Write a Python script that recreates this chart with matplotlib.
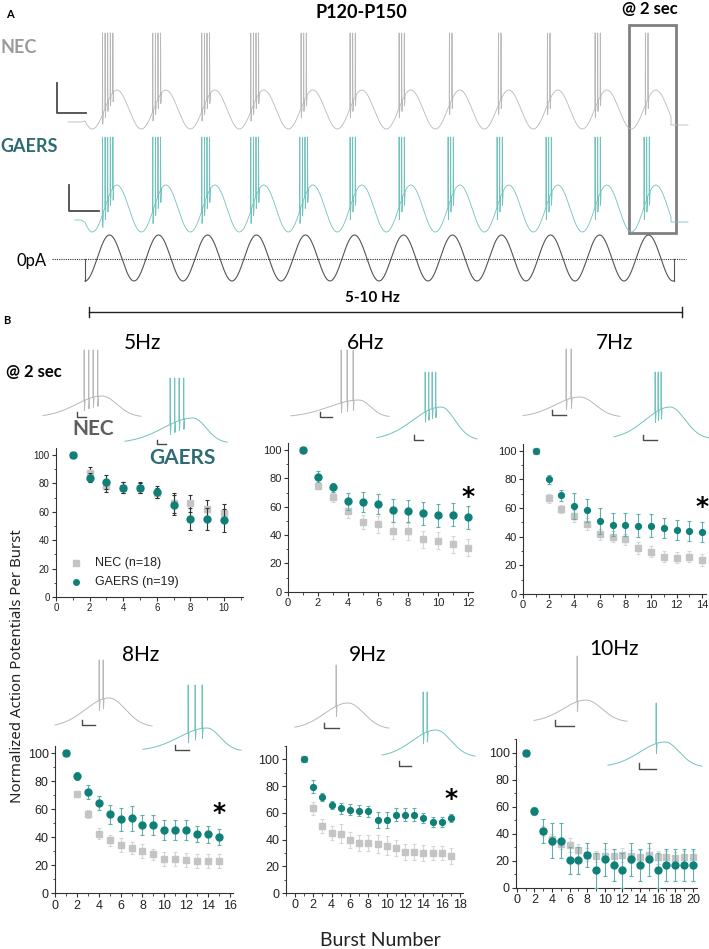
import numpy as np
import matplotlib
matplotlib.use("Agg")
import matplotlib.pyplot as plt
from matplotlib.ticker import MultipleLocator

# ---------------- data ----------------
burst_5 = list(range(1, 11))
nec_5 = [100, 87.3, 78, 77, 77, 73, 66, 66, 62, 59.3]
nec_5_err = [0, 4, 4, 4, 3.5, 3.5, 7, 6, 6, 6]
gaers_5 = [100, 84, 81, 77, 77, 74, 65, 55, 55, 54]
gaers_5_err = [0, 3, 5, 4, 4, 4, 7, 8, 8, 8]

burst_6 = list(range(1, 13))
nec_6 = [100, 74.6, 66.6, 57.2, 49, 47.5, 43, 42.6, 37, 36, 33.6, 31]
nec_6_err = [0, 2, 3, 5, 5, 6, 6, 6, 6, 6, 6, 6]
gaers_6 = [100, 81.2, 73.7, 64, 63.5, 62, 57.4, 57, 55.3, 54, 54.3, 52.5]
gaers_6_err = [0, 4, 3, 6, 7, 7, 8, 8, 8, 8, 8, 8]

burst_7 = list(range(1, 15))
nec_7 = [100, 66.8, 59.3, 54.4, 48.8, 41.6, 40, 38.2, 32, 29.5, 26, 25.3, 26, 23.7]
nec_7_err = [0, 3, 3, 4, 4, 4, 4, 4, 4, 4, 4, 4, 4, 4]
gaers_7 = [100, 80, 68.9, 61.2, 58.4, 51, 48.2, 48.2, 47.5, 47.5, 45.8, 44.7, 43.7, 43]
gaers_7_err = [0, 3, 4, 9, 8, 9, 8, 8, 8, 8, 7, 7, 7, 7]

burst_8 = list(range(1, 16))
nec_8 = [100, 70.9, 56.6, 42.6, 37.9, 34.3, 32.4, 30, 27.8, 24.8, 24.3, 23.6, 23.3, 22.9, 22.9]
nec_8_err = [0, 2, 3, 4, 4, 5, 4, 5, 4, 5, 5, 5, 5, 5, 5]
gaers_8 = [100, 83.8, 72.1, 64.7, 56.4, 52.8, 53.6, 48.6, 48.6, 45.2, 45.2, 45.2, 42.4, 42.1, 40.2]
gaers_8_err = [0, 3, 5, 5, 7, 8, 9, 7, 7, 7, 7, 7, 6, 6, 6]

burst_9 = list(range(1, 18))
nec_9 = [100, 63.4, 50.2, 45, 44.5, 39.7, 37.5, 37.5, 36.7, 35.5, 34, 31, 31, 30, 30, 30, 27.5]
nec_9_err = [0, 5, 5, 5, 7, 6, 6, 6, 7, 7, 6, 6, 6, 6, 5, 5, 6]
gaers_9 = [100, 79.5, 72, 65.7, 63.4, 62.4, 61.7, 61, 54.7, 54.7, 58.7, 58.7, 58.7, 56, 53, 53, 56]
gaers_9_err = [0, 5, 3, 3, 4, 4, 4, 4, 6, 6, 5, 5, 5, 4, 4, 4, 3]

burst_10 = list(range(1, 21))
nec_10 = [100, 57, 42, 36, 32.6, 31.6, 27.7, 24.5, 23.2, 23.7, 23.7, 24.2, 23.2, 23, 24.5, 22.5, 22.5, 21.7, 22.5, 22.5]
nec_10_err = [0, 3, 4, 4, 4, 5, 5, 5, 4, 5, 5, 5, 5, 5, 5, 5, 5, 5, 5, 5]
gaers_10 = [100, 57, 42, 34.8, 34.8, 20.5, 20.5, 24.2, 13, 21, 16.8, 13, 21, 16.8, 21, 13, 16.8, 16.8, 16.8, 16.8]
gaers_10_err = [0, 3, 9, 13, 13, 10, 10, 9, 13, 12, 12, 13, 12, 12, 12, 13, 12, 12, 12, 12]

freq_titles = ["5Hz", "6Hz", "7Hz", "8Hz", "9Hz", "10Hz"]
legend_labels = ["NEC (n=18)", "GAERS (n=19)"]
# spikes per burst in the example recordings of panel A
nec_spikes_A = [5, 4, 4, 4, 3, 3, 3, 2, 2, 2, 3, 2]
gaers_spikes_A = [5, 4, 4, 4, 4, 3, 3, 3, 3, 3, 3, 3]

# ---------------- styling ----------------
W, H = 709, 949
NEC_MK = "#c4c4c4"
NEC_ERR = "#d6d6d6"
GA_MK = "#0f8078"
GA_ERR = "#5fb0ab"
NEC_TR = "#b8b8b8"
GA_TR = "#72c2bd"
BAR = "#4a4a4a"
NARROW = ["Liberation Sans Narrow", "Liberation Sans", "DejaVu Sans"]
CAL = ["Lato", "DejaVu Sans"]

fig = plt.figure(figsize=(W / 100, H / 100), dpi=100)
ov = fig.add_axes([0, 0, 1, 1])
ov.set_xlim(0, W)
ov.set_ylim(H, 0)
ov.axis("off")


def trace_path(xb, yb, spikes, top, notch):
    keep = np.ones(len(xb), bool)
    extra = []
    for s in spikes:
        keep &= ~((xb >= s) & (xb <= s + 1.0))
        ybs = np.interp(s, xb, yb)
        extra += [(s, ybs), (s + 0.2, top), (s + 0.45, ybs + notch), (s + 1.0, np.interp(s + 1.0, xb, yb))]
    pts = [(x, y) for x, y, k in zip(xb, yb, keep) if k] + extra
    pts.sort(key=lambda p: p[0])
    return [p[0] for p in pts], [p[1] for p in pts]


# ---------------- panel A ----------------
x0, P = 85.0, 49.0
ncyc = len(nec_spikes_A)
xend = x0 + ncyc * P - 2


def panelA_trace(pre_y, trough, peak, top, notch, counts, color, xs_start, end_y):
    mid = (trough + peak) / 2
    amp = (trough - peak) / 2
    lag = 0.15
    xb = np.linspace(x0, xend, 4000)
    yb = mid + amp * np.cos(2 * np.pi * ((xb - x0) / P - lag))
    spikes = []
    for k, n in enumerate(counts):
        c = x0 + (k + 0.5) * P - 2
        spikes += list(c - (n - 1) * 1.3 + 2.6 * np.arange(n))
    xx, yy = trace_path(xb, yb, spikes, top, notch)
    xx = [xs_start, x0 - 4, x0] + xx + [xend, xend + 17]
    yy = [pre_y, pre_y, yb[0]] + yy + [end_y, end_y]
    ov.plot(xx, yy, color=color, lw=0.6)


panelA_trace(122, 129, 90, 33, 9, nec_spikes_A, NEC_TR, 68, 125)
panelA_trace(220, 232, 185, 137, 12, gaers_spikes_A, GA_TR, 75, 222)

# stimulus sine
xs = np.linspace(x0, xend + 3, 3000)
ys = 258 + 23 * np.cos(2 * np.pi * (xs - x0) / P)
ov.plot([x0, x0], [259, 281], color="#555555", lw=0.8)
ov.plot(xs, ys, color="#555555", lw=0.8)
ov.plot([xs[-1], xs[-1]], [ys[-1], 259], color="#555555", lw=0.8)
ov.plot([52, 686], [259, 259], color="#333333", lw=0.8, ls=(0, (1, 1)))

# box
ov.add_patch(plt.Rectangle((629, 25), 47, 208, fill=False, ec="#808080", lw=2))

# scale bars A
ov.plot([57, 57, 86], [83, 113, 113], color=BAR, lw=1.3)
ov.plot([69, 69, 99], [185, 211, 211], color=BAR, lw=1.3)

# 5-10 Hz bar
ov.plot([89, 682], [312, 312], color="#222222", lw=1.0)
ov.plot([89, 89], [307, 317], color="#222222", lw=1.0)
ov.plot([682, 682], [307, 317], color="#222222", lw=1.0)

ov.text(10, 14, "A", fontsize=8, fontweight="bold", family=CAL, ha="center", va="center")
ov.text(361, 12, "P120-P150", fontsize=13, fontweight="bold", family=CAL, ha="center", va="center")
ov.text(650, 9, "@ 2 sec", fontsize=12, fontweight="bold", family=CAL, ha="center", va="center")
ov.text(1, 47, "NEC", fontsize=13, fontweight="bold", color="#9a9a9a", family=CAL, ha="left", va="center")
ov.text(0, 146, "GAERS", fontsize=13, fontweight="bold", color="#2d6b74", family=CAL, ha="left", va="center")
ov.text(32, 261, "0pA", fontsize=12, family=CAL, ha="center", va="center")
ov.text(372, 298, "5-10 Hz", fontsize=11, fontweight="bold", family=CAL, ha="center", va="center")
ov.text(7, 321, "B", fontsize=8, fontweight="bold", family=CAL, ha="center", va="center")

# ---------------- panel B insets ----------------
insets = [
    (43, 141, 417, 102, 396, [84, 88.5, 93, 97.5], 350, NEC_TR, (77, 86, 412, 417)),
    (125, 227, 443, 193, 418, [170, 174.5, 179, 183.5], 378, GA_TR, (157, 166, 440, 444)),
    (291, 389, 417, 359, 400, [341, 347, 353], 350, NEC_TR, (320, 332, 412, 417)),
    (377, 477, 440, 441, 407, [425, 428.5, 432, 435.5], 372, GA_TR, (414, 423, 435, 440)),
    (523, 620, 417, 580, 397, [566, 571], 349, NEC_TR, (552, 566, 410, 415)),
    (614, 709, 439, 670, 407, [655, 658, 661], 372, GA_TR, (643, 657, 435, 440)),
    (55, 152, 727, 109, 698, [99, 103], 660, NEC_TR, (82, 95, 720, 725)),
    (143, 241, 751, 207, 728, [188, 195, 202], 685, GA_TR, (175, 189, 745, 750)),
    (295, 389, 729, 348, 703, [336], 665, NEC_TR, (324, 339, 723, 728)),
    (382, 475, 757, 436, 730, [423, 427], 692, GA_TR, (399, 411, 761, 766)),
    (534, 627, 722, 586, 700, [577], 656, NEC_TR, (555, 574, 720, 726)),
    (608, 702, 767, 665, 742, [656], 703, GA_TR, (639, 656, 763, 769)),
]
for (xa, xb_, base, hx, hy, spk, top, col, sb) in insets:
    xb = np.linspace(xa, xb_, 800)
    sl = (hx - xa) / 2.3
    sr = (xb_ - hx) / 2.6
    sig = np.where(xb < hx, sl, sr)
    yb = base - (base - hy) * np.exp(-0.5 * ((xb - hx) / sig) ** 2)
    xx, yy = trace_path(xb, yb, spk, top, 10)
    ov.plot(xx, yy, color=col, lw=0.7)
    ov.plot([sb[0], sb[0], sb[1]], [sb[2], sb[3], sb[3]], color=BAR, lw=1.0)

ov.text(34, 372, "@ 2 sec", fontsize=12, fontweight="bold", family=CAL, ha="center", va="center")
ov.text(93, 429, "NEC", fontsize=15, fontweight="bold", color="#5e5e5e", family=CAL, ha="center", va="center")
ov.text(182, 458, "GAERS", fontsize=15, fontweight="bold", color="#2f6c76", family=CAL, ha="center", va="center")

title_pos = [(142, 343), (366, 343), (615, 343), (141, 655), (368, 655), (614, 649)]
for t, (tx, ty) in zip(freq_titles, title_pos):
    ov.text(tx, ty, t, fontsize=15, family=CAL, ha="center", va="center")

ov.text(18, 666, "Normalized Action Potentials Per Burst", rotation=90, fontsize=10.8,
        family=["Noto Sans", "DejaVu Sans"], color="#222222", ha="center", va="center")
ov.text(380, 940, "Burst Number", fontsize=14, family=CAL, ha="center", va="center", color="#222222")


# ---------------- panel B scatter plots ----------------
def px_axes(left, ppu_x, xlim, bottom, ppu_y, ylim):
    r = left + (xlim[1] - xlim[0]) * ppu_x
    t = bottom - (ylim[1] - ylim[0]) * ppu_y
    ax = fig.add_axes([left / W, 1 - bottom / H, (r - left) / W, (bottom - t) / H])
    ax.set_xlim(*xlim)
    ax.set_ylim(*ylim)
    ax.patch.set_alpha(0)
    for s in ("top", "right"):
        ax.spines[s].set_visible(False)
    for s in ("left", "bottom"):
        ax.spines[s].set_linewidth(0.8)
        ax.spines[s].set_color("#333333")
    return ax


specs = [
    (burst_5, nec_5, nec_5_err, gaers_5, gaers_5_err, (56, 16.8, (0, 11.13), 597, 1.42, (0, 105)), 10, 7, 5, "#333333", "#333333", None),
    (burst_6, nec_6, nec_6_err, gaers_6, gaers_6_err, (288, 15.0, (0, 12.33), 591.7, 1.417, (0, 105)), 12, 8, 5, NEC_ERR, GA_ERR, (12, 67)),
    (burst_7, nec_7, nec_7_err, gaers_7, gaers_7_err, (523, 12.8, (0, 14.3), 594, 1.433, (0, 105)), 14, 8, 4.2, NEC_ERR, GA_ERR, (14, 61)),
    (burst_8, nec_8, nec_8_err, gaers_8, gaers_8_err, (55, 10.93, (0, 16.3), 893.3, 1.4, (0, 105)), 16, 9, 5, NEC_ERR, GA_ERR, (15, 57)),
    (burst_9, nec_9, nec_9_err, gaers_9, gaers_9_err, (285.8, 9.17, (-1, 18.3), 893, 1.337, (0, 110)), 18, 9, 4.2, NEC_ERR, GA_ERR, (17, 70)),
    (burst_10, nec_10, nec_10_err, gaers_10, gaers_10_err, (516, 8.8, (-0.1, 20.5), 887.7, 1.35, (0, 110)), 20, 9, 5, NEC_ERR, GA_ERR, None),
]

axes = []
for (bx, nm, ne, gm, ge, geo, xmax, fs, gms, nec_ec, ga_ec, star) in specs:
    ax = px_axes(*geo)
    ax.errorbar(bx, nm, yerr=ne, fmt="s", ms=4, color=NEC_MK, ecolor=nec_ec, elinewidth=0.8,
                capsize=1.5, capthick=0.8, mec=NEC_MK, zorder=2)
    ax.errorbar(bx, gm, yerr=ge, fmt="o", ms=gms, color=GA_MK, ecolor=ga_ec, elinewidth=0.8,
                capsize=1.5, capthick=0.8, mec=GA_MK, zorder=3)
    ax.set_xticks(np.arange(0, xmax + 1, 2))
    ax.xaxis.set_minor_locator(MultipleLocator(1))
    ax.set_yticks(np.arange(0, 101, 20))
    ax.yaxis.set_minor_locator(MultipleLocator(10))
    ax.tick_params(which="major", direction="out", length=3, width=0.8, labelsize=fs, pad=1.5, colors="#333333")
    ax.tick_params(which="minor", direction="out", length=1.8, width=0.6, colors="#333333")
    for lab in ax.get_xticklabels() + ax.get_yticklabels():
        lab.set_family(NARROW)
        lab.set_color("#222222")
    if star is not None:
        ax.text(star[0], star[1], "*", fontsize=18, fontweight="bold", ha="center", va="center")
    axes.append(ax)

# legend of the 5 Hz plot, placed at its location inside the axes
lg = axes[0]
lg.plot([1.2], [24], ls="none", marker="s", ms=4, color=NEC_MK, clip_on=False)
lg.plot([1.2], [10.5], ls="none", marker="o", ms=4, color=GA_MK, clip_on=False)
lg.text(2.3, 24, legend_labels[0], fontsize=9, family=NARROW, va="center", ha="left", color="#222222")
lg.text(2.3, 10.5, legend_labels[1], fontsize=9, family=NARROW, va="center", ha="left", color="#222222")

fig.savefig("out.png", dpi=100)
